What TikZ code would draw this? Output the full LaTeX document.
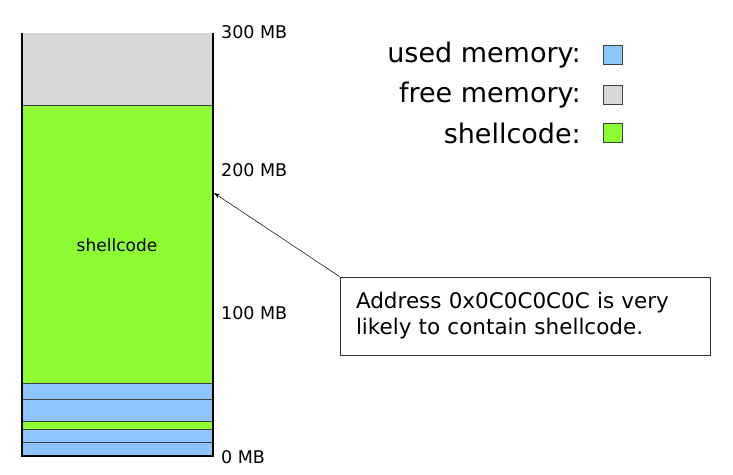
\documentclass[tikz,border=0pt]{standalone}
\usepackage{fontspec}
\setmainfont{DejaVu Sans}
\usetikzlibrary{arrows.meta}

\definecolor{usedblue}{RGB}{142,196,255}
\definecolor{freegrey}{RGB}{216,216,216}
\definecolor{shellgreen}{RGB}{142,252,51}

\tikzset{
  layer/.style={draw=black!75,line width=0.8pt},
  mblabel/.style={anchor=west,inner sep=0pt,font=\fontsize{17.5}{21}\selectfont},
  legendtext/.style={anchor=east,inner sep=0pt,font=\fontsize{27}{32}\selectfont},
  legendbox/.style={draw=black!75,line width=0.8pt,minimum size=19pt,inner sep=0pt},
}

\begin{document}
\begin{tikzpicture}[x=1pt,y=-1pt]
\useasboundingbox (0,0) rectangle (733,474);
% memory column, top to bottom
\fill[freegrey] (22,33) rectangle (213,105);
\draw[layer,fill=shellgreen] (22,105) rectangle (213,383);
\draw[layer,fill=usedblue] (22,383) rectangle (213,399);
\draw[layer,fill=usedblue] (22,399) rectangle (213,421);
\draw[layer,fill=shellgreen] (22,421) rectangle (213,429);
\draw[layer,fill=usedblue] (22,429) rectangle (213,442);
\draw[layer,fill=usedblue] (22,442) rectangle (213,456);
\draw[line width=1.6pt] (22,33) -- (22,456) -- (213,456) -- (213,33);
\node (shell) at (117,245) [font=\fontsize{17}{20}\selectfont] {shellcode};
% scale
\node (mb300) at (221,32) [mblabel] {300 MB};
\node (mb200) at (221,170) [mblabel] {200 MB};
\node (mb100) at (221,313) [mblabel] {100 MB};
\node (mb0) at (221,457) [mblabel] {0 MB};
% legend
\node (usedtxt) at (581,55) [legendtext] {used memory:};
\node (freetxt) at (581,95) [legendtext] {free memory:};
\node (shelltxt) at (581,133) [legendtext] {shellcode:};
\node (usedbox) at (613,55) [legendbox,fill=usedblue] {};
\node (freebox) at (613,95) [legendbox,fill=freegrey] {};
\node (shellbox) at (613,133) [legendbox,fill=shellgreen] {};
% callout
\node (note) at (525,316) [draw=black!80,line width=0.8pt,minimum width=370pt,minimum height=78pt,
  inner xsep=16pt,text width=338pt,align=left,font=\fontsize{21.5}{26}\selectfont]
  {Address 0x0C0C0C0C is very\\likely to contain shellcode.};
\coordinate (target) at (214,193);
\draw[-{Stealth[length=6pt,width=4pt]},line width=0.5pt] (note.north west) -- (target);
\end{tikzpicture}
\end{document}
